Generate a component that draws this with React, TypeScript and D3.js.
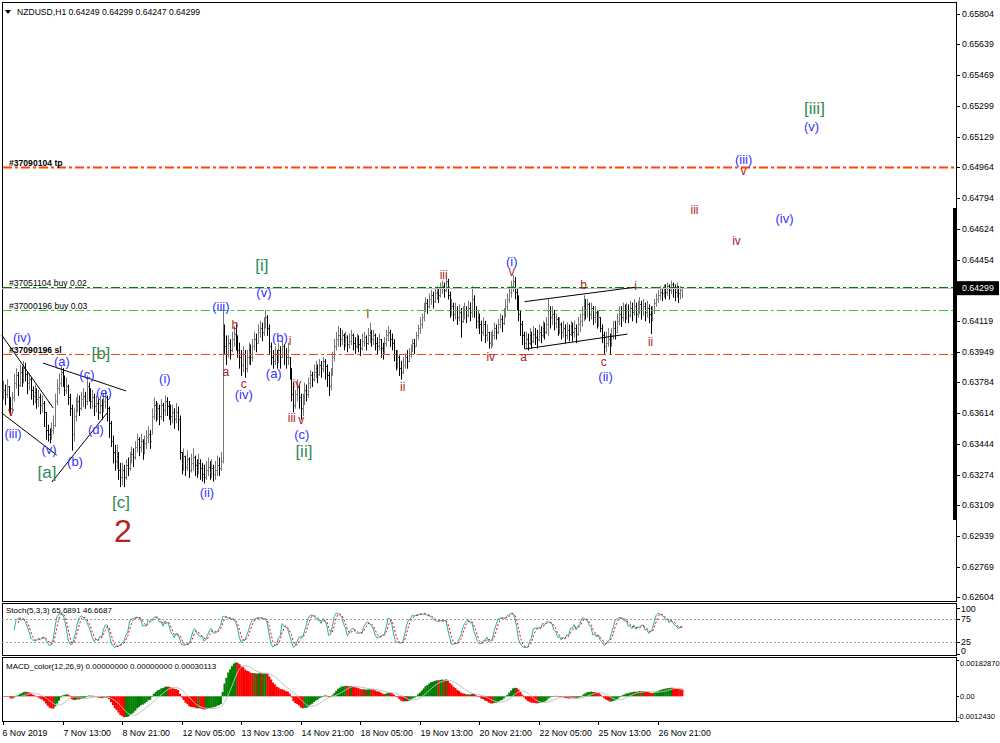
import React from "react";
import * as d3 from "d3";

// ---------- DATA (prices in pips above 0.6000: price = 0.6 + v / 10000) ----------
const closesPips = [
  374, 372, 376, 370, 364,
  370, 378, 382, 377, 384, 381, 386,
  383, 378, 380, 374, 371, 373, 369, 370, 366, 367, 362, 352, 350,
  349, 352, 355, 368, 375, 378, 384,
  380, 374, 376, 370, 364, 350,
  360, 366, 368, 364, 369, 371, 368, 376,
  372, 368, 370, 365, 367, 362, 366, 363, 368, 370, 364, 356,
  346, 340, 335, 338, 330, 326,
  330, 326, 333, 331, 336, 339, 337, 343, 347,
  343, 346, 341, 345, 348, 350, 346,
  360, 366, 362, 364, 360, 366, 363, 368, 365,
  364, 360, 362, 358, 362, 358,
  340,
  334, 338, 332, 336, 330, 334, 337, 333, 330, 334, 331, 328, 326, 330, 332, 329, 331, 328, 330, 333, 331, 335,
  405,
  398, 394, 400, 396, 402, 405, 402,
  396, 392, 388, 394, 386,
  392, 396, 392, 398, 402, 400, 406, 408, 406, 410, 414,
  408, 398, 392, 390, 394,
  390, 396, 392, 398, 394, 392, 396,
  384, 372, 366,
  372, 376, 370, 364,
  368, 374, 372, 378, 382, 380, 384, 386, 383, 388, 386, 390, 387, 382, 376,
  384, 392, 398, 402, 404,
  402, 404, 400, 403, 399, 401, 404, 400, 398, 402, 399, 397, 401, 403, 400, 404,
  406,
  402, 404, 400, 398, 402, 397, 395, 400, 404, 406,
  402, 400, 394, 390, 392, 386, 384, 388,
  392, 390, 394, 396, 400, 398, 404, 408, 410,
  414, 418, 422, 420, 424, 426, 423, 427, 428, 426, 430, 431, 429, 434,
  426, 418, 420, 416, 418, 414, 417, 412, 416, 418, 415, 419, 417, 424,
  418, 412, 414, 410, 406, 410, 404, 406, 400, 402,
  404, 408, 406, 410, 413, 411, 416, 420, 424, 428, 431, 434,
  428, 424, 416, 410, 404, 400,
  402, 400, 404, 401, 405, 403, 402, 406, 404, 408, 406, 410, 418,
  414, 416, 411, 413, 408, 410, 406, 408, 404, 407, 405, 409, 406, 408, 405, 410, 412, 416,
  420,
  418, 421, 416, 419, 414, 417, 412, 414,
  408, 404, 398, 400, 402, 398, 404,
  408, 406, 412, 416, 414, 418, 416,
  418, 415, 419, 417, 420, 416, 419, 421, 418, 420, 417, 419, 416,
  414,
  418, 422, 424, 426, 428, 427, 430, 428, 431, 429, 432, 430, 428, 431, 427, 429, 429.9,
];

const highsPips = [
  379, 377, 380, 376, 370,
  373, 383, 386, 384, 388, 387, 390,
  389, 384, 383, 381, 376, 377, 375, 374, 372, 371, 368, 362, 355,
  353, 356, 360, 372, 380, 383, 387,
  386, 382, 381, 377, 372, 366,
  364, 370, 372, 371, 373, 375, 373, 382,
  378, 375, 374, 372, 371, 369, 371, 369, 372, 374, 371, 365,
  357, 349, 344, 344, 340, 334,
  334, 333, 336, 337, 340, 343, 342, 346, 350,
  348, 350, 347, 349, 352, 354, 352,
  364, 370, 368, 367, 366, 369, 367, 371, 370,
  368, 366, 366, 364, 367, 365,
  360,
  340, 342, 338, 341, 337, 339, 342, 338, 336, 339, 336, 334, 333, 335, 337, 335, 336, 333, 335, 338, 337, 340,
  418,
  410, 404, 404, 402, 406, 409, 410,
  404, 400, 396, 398, 396,
  396, 400, 399, 402, 406, 405, 410, 412, 411, 414, 418,
  415, 410, 400, 396, 398,
  396, 400, 398, 401, 399, 397, 400,
  392, 386, 378,
  374, 380, 377, 372,
  372, 378, 377, 381, 385, 384, 388, 390, 388, 391, 390, 392, 391, 388, 384,
  386, 395, 402, 406, 409,
  408, 407, 405, 406, 404, 405, 407, 405, 403, 405, 404, 402, 405, 406, 404, 408,
  411,
  407, 407, 405, 403, 405, 402, 400, 403, 407, 409,
  407, 405, 402, 396, 396, 393, 390, 392,
  394, 396, 397, 399, 402, 402, 406, 410, 414,
  416, 422, 425, 424, 427, 429, 428, 430, 431, 430, 433, 434, 433, 437,
  435, 428, 424, 422, 422, 420, 421, 419, 420, 422, 420, 423, 422, 431,
  426, 420, 418, 416, 412, 414, 412, 410, 406, 406,
  407, 411, 410, 413, 416, 415, 419, 424, 427, 431, 434, 437,
  436, 430, 426, 418, 412, 406,
  406, 405, 408, 406, 409, 408, 407, 410, 409, 412, 411, 414, 424,
  420, 420, 418, 416, 414, 414, 411, 412, 410, 411, 410, 412, 411, 412, 410, 414, 416, 420,
  426,
  424, 424, 422, 422, 420, 420, 418, 418,
  414, 410, 406, 406, 408, 405, 408,
  412, 412, 416, 420, 420, 422, 421,
  422, 421, 423, 422, 424, 422, 423, 425, 423, 424, 422, 423, 421,
  420,
  420, 424, 427, 429, 431, 430, 432, 432, 433, 432, 434, 433, 432, 433, 431, 431, 429.9,
];

const lowsPips = [
  369, 366, 370, 362, 360,
  363, 368, 375, 371, 376, 376, 378,
  379, 372, 374, 369, 366, 367, 364, 365, 361, 362, 354, 347, 346,
  345, 347, 350, 354, 366, 372, 376,
  376, 371, 372, 366, 360, 341,
  346, 357, 362, 360, 363, 365, 364, 366,
  368, 364, 364, 360, 362, 358, 361, 358, 362, 364, 357, 348,
  343, 334, 330, 331, 325, 321,
  322, 321, 325, 327, 330, 334, 332, 336, 340,
  338, 340, 336, 339, 342, 345, 342,
  350, 358, 357, 358, 355, 358, 357, 360, 360,
  358, 355, 356, 353, 356, 352,
  336,
  328, 330, 327, 330, 326, 329, 330, 327, 326, 328, 325, 324, 323, 325, 327, 325, 326, 324, 325, 327, 327, 330,
  334,
  394, 388, 392, 391, 395, 398, 396,
  392, 386, 382, 384, 381,
  384, 388, 388, 390, 396, 395, 400, 403, 401, 404, 408,
  404, 394, 388, 386, 388,
  386, 389, 386, 392, 388, 386, 388,
  380, 368, 362,
  364, 368, 364, 358,
  360, 366, 368, 370, 375, 376, 379, 381, 378, 382, 381, 384, 380, 376, 371,
  374, 382, 390, 396, 398,
  398, 399, 396, 398, 395, 397, 399, 396, 394, 397, 395, 393, 396, 398, 396, 399,
  400,
  398, 399, 396, 394, 396, 392, 391, 394, 398, 401,
  398, 396, 390, 385, 386, 382, 380, 383,
  386, 386, 390, 392, 395, 394, 398, 402, 405,
  408, 412, 417, 416, 419, 421, 419, 422, 424, 422, 425, 427, 425, 428,
  424, 414, 415, 412, 413, 410, 412, 403, 411, 413, 411, 414, 412, 414,
  414, 408, 408, 405, 401, 404, 400, 401, 397, 397,
  398, 402, 402, 405, 408, 406, 410, 414, 418, 422, 425, 428,
  424, 418, 412, 404, 399, 397,
  397, 396, 399, 397, 400, 399, 397, 401, 400, 403, 402, 405, 404,
  408, 410, 407, 408, 404, 405, 402, 403, 400, 402, 401, 404, 401, 403, 400, 404, 406, 409,
  412,
  413, 414, 412, 413, 410, 411, 408, 409,
  406, 400, 394, 395, 398, 394, 398,
  402, 402, 406, 410, 409, 412, 411,
  413, 411, 414, 412, 415, 411, 414, 416, 413, 415, 412, 414, 411,
  405,
  412, 416, 420, 422, 424, 423, 425, 424, 426, 424, 427, 425, 423, 425, 422, 424, 424.7,
];

const dateLabels = [
  "6 Nov 2019", "7 Nov 13:00", "8 Nov 21:00", "12 Nov 05:00", "13 Nov 13:00", "14 Nov 21:00",
  "18 Nov 05:00", "19 Nov 13:00", "20 Nov 21:00", "22 Nov 05:00", "25 Nov 13:00", "26 Nov 21:00",
];
const BARS_PER_LABEL = 32;

const priceTicks = [
  0.65804, 0.65639, 0.65469, 0.65299, 0.65129, 0.64964, 0.64794, 0.64624, 0.64454,
  0.64119, 0.63949, 0.63784, 0.63614, 0.63444, 0.63274, 0.63109, 0.62939, 0.62769, 0.62604,
];
const priceDomain = [0.62604, 0.65804];
const lastPrice = 0.64299;
const headerSymbol = "NZDUSD,H1";
const headerOHLC = ["0.64249", "0.64299", "0.64247", "0.64299"];

const orderPrices = [0.64964, 0.64305, 0.6418, 0.63938];
const orderLabels = ["#37090104 tp", "#37051104 buy 0.02", "#37000196 buy 0.03", "#37090196 sl"];
const orderKinds = ["tp", "buy1", "buy2", "sl"];

const scaleMarker = [0.64739, 0.63027];

// trend lines: [barIndex1, pips1, barIndex2, pips2]
const trendLines: [number, number, number, number][] = [
  [-0.7, 404.2, 27.0, 364.1],
  [-0.7, 361.4, 28.9, 338.3],
  [21.5, 388.8, 66.1, 373.5],
  [26.3, 323.5, 55.9, 361.4],
  [280.3, 422.5, 339.4, 430.4],
  [280.3, 396.5, 335.6, 404.7],
];

// wave labels: [text, barIndex, pips]
const blueLabels: [string, number, number][] = [
  ["(iv)", 10.2, 402.6], ["(iii)", 5.4, 350.4], ["(v)", 24.7, 341.1], ["(a)", 31.7, 389.4],
  ["(b)", 38.7, 334.5], ["(c)", 45.1, 382.8], ["(d)", 49.9, 352.1], ["(e)", 54.2, 372.9],
  ["(i)", 87.0, 380.6], ["(ii)", 109.6, 318.0], ["(iii)", 117.1, 420.1], ["(iv)", 129.4, 371.3],
  ["(v)", 140.2, 427.8], ["(a)", 145.5, 383.3], ["(b)", 148.8, 403.1], ["(c)", 160.6, 349.5],
  ["(i)", 273.4, 444.3], ["(ii)", 323.8, 381.5], ["(iii)", 398.0, 500.3], ["(iv)", 420.0, 468.4],
  ["(v)", 434.5, 518.4],
];
const greenLabels: [string, number, number][] = [
  ["[a]", 23.6, 329.0], ["[b]", 52.6, 393.8], ["[c]", 63.4, 312.5], ["[i]", 139.1, 442.1],
  ["[ii]", 161.7, 340.5], ["[iii]", 436.1, 528.8],
];
const brownLabels: [string, number, number][] = [
  ["v", 4.3, 361.9], ["a", 119.8, 383.9], ["b", 124.6, 409.7], ["c", 129.4, 377.3],
  ["i", 154.3, 400.9], ["iv", 157.9, 377.3], ["iii", 155.2, 358.6], ["v", 160.3, 357.6],
  ["i", 196.0, 415.7], ["ii", 214.8, 375.7], ["iii", 236.8, 437.1], ["iv", 262.1, 392.1],
  ["v", 273.4, 438.8], ["a", 279.8, 392.1], ["b", 312.0, 431.6], ["c", 322.8, 389.2],
  ["i", 340.0, 431.1], ["ii", 348.0, 400.4], ["iii", 371.6, 472.8], ["iv", 394.2, 455.8],
  ["v", 398.0, 494.2],
];
const degreeLabel: [string, number, number] = ["2", 64.4, 296.6];

const stochLevels = [75, 25];
const stochAxis = [100, 75, 25, 0];
const stochInfo = "Stoch(5,3,3) 65.6891 46.6687";
const macdDomain = [-0.001243, 0.0018287];
const macdAxisValues = [0.0018287, 0, -0.001243];
const macdAxisText = ["0.00182870", "0.00", "-0.0012430"];
const macdInfo = "MACD_color(12,26,9) 0.00000000 0.00000000 0.00030113";

// ---------- LAYOUT ----------
const W = 1000, H = 743;
const L = 2, R = 956;
const MAIN = { top: 2, bottom: 601 };
const STO = { top: 603, bottom: 655 };
const MAC = { top: 657, bottom: 721 };
const FONT = "'Liberation Sans', Arial, sans-serif";

const toPrice = (v: number) => 0.6 + v / 10000;

export default function App() {
  const n = Math.min(closesPips.length, highsPips.length, lowsPips.length);
  const bars = d3.range(n).map((i) => {
    const c = closesPips[i];
    const h = Math.max(highsPips[i], c);
    const l = Math.min(lowsPips[i], c);
    const prev = i > 0 ? closesPips[i - 1] : c;
    const o = Math.max(l, Math.min(h, prev));
    return { i, o: toPrice(o), h: toPrice(h), l: toPrice(l), c: toPrice(c) };
  });

  const x = d3.scaleLinear().domain([0, BARS_PER_LABEL * (dateLabels.length - 1)]).range([3, 658]);
  const step = x(1) - x(0);
  const y = d3.scaleLinear().domain(priceDomain).range([597, 14]);
  const ys = d3.scaleLinear().domain([0, 100]).range([653.5, 607.5]);
  const ym = d3.scaleLinear().domain(macdDomain).range([MAC.bottom, MAC.top + 3]);
  const px = (i: number) => Math.round(x(i)) + 0.5;

  // Stochastic (5,3,3)
  const K = 5, S = 3, D = 3;
  const num: number[] = [], den: number[] = [];
  bars.forEach((b, i) => {
    const lo = i - K + 1;
    if (lo < 0) { num.push(NaN); den.push(NaN); return; }
    const slice = bars.slice(lo, i + 1);
    const hh = d3.max(slice, (d) => d.h)!;
    const ll = d3.min(slice, (d) => d.l)!;
    num.push(b.c - ll); den.push(hh - ll);
  });
  const stMain: number[] = bars.map((_, i) => {
    if (i < K - 1 + S - 1) return NaN;
    const sn = d3.sum(num.slice(i - S + 1, i + 1));
    const sd = d3.sum(den.slice(i - S + 1, i + 1));
    return sd === 0 ? 100 : (100 * sn) / sd;
  });
  const stSig: number[] = bars.map((_, i) => {
    if (i < K - 1 + S - 1 + D - 1) return NaN;
    return d3.mean(stMain.slice(i - D + 1, i + 1))!;
  });

  // MACD (12,26,9)
  const a12 = 2 / 13, a26 = 2 / 27;
  let e12 = bars[0].c, e26 = bars[0].c;
  const macd = bars.map((b, i) => {
    if (i > 0) { e12 = a12 * b.c + (1 - a12) * e12; e26 = a26 * b.c + (1 - a26) * e26; }
    return e12 - e26;
  });
  const macdSig = macd.map((_, i) => (i < 8 ? NaN : d3.mean(macd.slice(i - 8, i + 1))!));
  const clampM = (v: number) => Math.max(macdDomain[0], Math.min(macdDomain[1], v));

  const lineSt = d3.line<number>().defined((d) => !isNaN(d)).x((_, i) => x(i)).y((d) => ys(d));
  const lineMs = d3.line<number>().defined((d) => !isNaN(d)).x((_, i) => x(i)).y((d) => ym(clampM(d)));

  const orderStyle: Record<string, { color: string; width: number; bold: boolean }> = {
    tp: { color: "#FF4500", width: 2, bold: true },
    buy1: { color: "#008000", width: 1, bold: false },
    buy2: { color: "#32CD32", width: 1.2, bold: false },
    sl: { color: "#FF4500", width: 1, bold: true },
  };

  return (
    <svg width={W} height={H} style={{ position: "absolute", left: 0, top: 0, background: "#fff" }}
      fontFamily={FONT}>
      <rect x={0} y={0} width={W} height={H} fill="#fff" />

      {/* Panel frames */}
      <rect x={L + 0.5} y={MAIN.top + 0.5} width={R - L} height={MAIN.bottom - MAIN.top} fill="none" stroke="#000" />
      <rect x={L + 0.5} y={STO.top + 0.5} width={R - L} height={STO.bottom - STO.top} fill="none" stroke="#000" />
      <rect x={L + 0.5} y={MAC.top + 0.5} width={R - L} height={MAC.bottom - MAC.top} fill="none" stroke="#000" />

      {/* header */}
      <path d="M5,10 L11,10 L8,14 Z" fill="#000" />
      <text x={17} y={15} fontSize={8.6} fill="#000">
        {headerSymbol + "  " + headerOHLC.join(" ")}
      </text>

      {/* price bars */}
      <g>
        {bars.map((b) => {
          const cx = px(b.i);
          const col = b.c >= b.o ? "#777777" : "#000000";
          return (
            <g key={b.i} stroke={col} strokeWidth={1}>
              <line x1={cx} x2={cx} y1={y(b.h)} y2={y(b.l) + 0.5} />
              <line x1={cx - 1} x2={cx} y1={Math.round(y(b.o)) + 0.5} y2={Math.round(y(b.o)) + 0.5} />
              <line x1={cx} x2={cx + 1} y1={Math.round(y(b.c)) + 0.5} y2={Math.round(y(b.c)) + 0.5} />
            </g>
          );
        })}
      </g>

      {/* bid line */}
      <line x1={L} x2={R} y1={Math.round(y(lastPrice)) + 0.5} y2={Math.round(y(lastPrice)) + 0.5} stroke="#C0C0C0" />

      {/* order lines */}
      {orderPrices.map((p, k) => {
        const st = orderStyle[orderKinds[k]];
        const yy = Math.round(y(p)) + 0.5;
        return (
          <g key={k}>
            <line x1={L + 1} x2={R} y1={yy} y2={yy} stroke={st.color} strokeWidth={st.width} strokeDasharray="9,3,3,3" />
            <text x={9} y={yy - 2} fontSize={8.6} fill="#000" fontWeight={st.bold ? "bold" : "normal"}>
              {orderLabels[k]}
            </text>
          </g>
        );
      })}

      {/* trend lines */}
      {trendLines.map((t, k) => (
        <line key={k} x1={x(t[0])} y1={y(toPrice(t[1]))} x2={x(t[2])} y2={y(toPrice(t[3]))} stroke="#000" strokeWidth={1} />
      ))}

      {/* wave labels */}
      {blueLabels.map((l, k) => (
        <text key={"b" + k} x={x(l[1])} y={y(toPrice(l[2]))} fontSize={13} fill="#3333FF" textAnchor="middle" dominantBaseline="central">{l[0]}</text>
      ))}
      {greenLabels.map((l, k) => (
        <text key={"g" + k} x={x(l[1])} y={y(toPrice(l[2]))} fontSize={17} fill="#2E8B57" textAnchor="middle" dominantBaseline="central">{l[0]}</text>
      ))}
      {brownLabels.map((l, k) => (
        <text key={"r" + k} x={x(l[1])} y={y(toPrice(l[2]))} fontSize={12} fill="#B22222" textAnchor="middle" dominantBaseline="central">{l[0]}</text>
      ))}
      <text x={x(degreeLabel[1])} y={y(toPrice(degreeLabel[2]))} fontSize={32} fill="#B22222" textAnchor="middle" dominantBaseline="central">{degreeLabel[0]}</text>

      {/* price axis */}
      <rect x={R - 3} y={y(scaleMarker[0])} width={3} height={y(scaleMarker[1]) - y(scaleMarker[0])} fill="#000" />
      {priceTicks.map((p) => (
        <g key={p}>
          <line x1={R} x2={R + 4} y1={Math.round(y(p)) + 0.5} y2={Math.round(y(p)) + 0.5} stroke="#000" />
          <text x={962} y={y(p)} fontSize={8.8} fill="#000" dominantBaseline="central">{p.toFixed(5)}</text>
        </g>
      ))}
      <rect x={R + 1} y={y(lastPrice) - 7} width={42} height={14} fill="#000" />
      <text x={962} y={y(lastPrice)} fontSize={8.8} fill="#fff" dominantBaseline="central">{lastPrice.toFixed(5)}</text>

      {/* Stochastic */}
      <text x={6} y={613} fontSize={8} fill="#000">{stochInfo}</text>
      {stochLevels.map((lv) => (
        <line key={lv} x1={L} x2={R} y1={Math.round(ys(lv)) + 0.5} y2={Math.round(ys(lv)) + 0.5} stroke="#A0A0A0" strokeDasharray="2,2" />
      ))}
      <path d={lineSt(stMain) || ""} fill="none" stroke="#20B2AA" strokeWidth={1} />
      <path d={lineSt(stSig) || ""} fill="none" stroke="#FF0000" strokeWidth={1} strokeDasharray="2,2" />
      {stochAxis.map((v) => (
        <g key={v}>
          <line x1={R} x2={R + 4} y1={Math.round(ys(v)) + 0.5} y2={Math.round(ys(v)) + 0.5} stroke="#000" />
          <text x={961} y={Math.max(609, Math.min(651, ys(v)))} fontSize={8.8} fill="#000" dominantBaseline="central">{v}</text>
        </g>
      ))}

      {/* MACD */}
      <g>
        {macd.map((v, i) => {
          const y0 = ym(0), y1 = ym(clampM(v));
          const up = i === 0 || v >= macd[i - 1];
          return (
            <rect key={i} x={x(i) - step / 2} width={step + 0.3} y={Math.min(y0, y1)} height={Math.max(0.5, Math.abs(y1 - y0))} fill={up ? "#008000" : "#FF0000"} />
          );
        })}
      </g>
      <path d={lineMs(macdSig) || ""} fill="none" stroke="#C0C0C0" strokeWidth={1} />
      <text x={6} y={669} fontSize={8} fill="#000">{macdInfo}</text>
      {macdAxisValues.map((v, k) => (
        <g key={k}>
          <line x1={R} x2={R + 3} y1={Math.round(ym(v)) + 0.5} y2={Math.round(ym(v)) + 0.5} stroke="#000" />
          <text x={k === 2 ? 957 : 960} y={Math.max(663, Math.min(716, ym(v)))} fontSize={7.5} fill="#000" dominantBaseline="central">{macdAxisText[k]}</text>
        </g>
      ))}

      {/* time axis */}
      {dateLabels.map((d, k) => {
        const tx = px(k * BARS_PER_LABEL);
        return (
          <g key={d}>
            <line x1={tx} x2={tx} y1={MAC.bottom} y2={MAC.bottom + 4} stroke="#000" />
            <text x={tx + (k === 0 ? -1 : 0)} y={736} fontSize={8.8} fill="#000">{d}</text>
          </g>
        );
      })}
    </svg>
  );
}
